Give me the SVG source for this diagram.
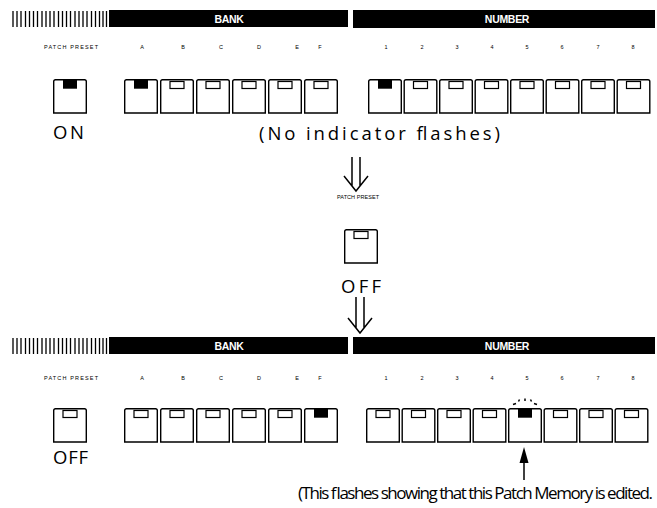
<svg xmlns="http://www.w3.org/2000/svg" xmlns:xlink="http://www.w3.org/1999/xlink" width="657" height="508" viewBox="0 0 657 508">
<style>
.bar{fill:#000}
.bt{font-family:"Liberation Sans",Arial,sans-serif;font-weight:bold;font-size:10.5px;fill:#fff;text-anchor:middle;letter-spacing:-0.3px}
.lb{font-family:"Liberation Sans",Arial,sans-serif;font-size:5.5px;fill:#000;text-anchor:middle}
.tx{font-family:"Open Sans","Liberation Sans",sans-serif;font-weight:400;font-size:18.5px;fill:#000}
.tx2{font-family:"Open Sans","Liberation Sans",sans-serif;font-weight:400;font-size:17px;fill:#000}
.btn{fill:#fff;stroke:#000;stroke-width:1.4}
.win{fill:#fff;stroke:#000;stroke-width:1.2}
.lit{fill:#000}
.arr{fill:none;stroke:#000;stroke-width:1.5;stroke-linejoin:miter}
.hat{stroke:#000;fill:none}
</style>
<defs>
<g id="bOff">
<path class="btn" d="M0.7,34 V2.5 Q0.7,0.7 2.5,0.7 H31.5 Q33.3,0.7 33.3,2.5 V34 Z"/>
<rect class="win" x="10" y="2.5" width="14" height="7"/>
</g>
<g id="bOn">
<path class="btn" d="M0.7,34 V2.5 Q0.7,0.7 2.5,0.7 H31.5 Q33.3,0.7 33.3,2.5 V34 Z"/>
<rect class="lit" x="10" y="0.7" width="14" height="9"/>
</g>
<path id="hatch" class="hat" stroke-width="1.3" d="M13,0V16M17,0V16M21,0V16M25.5,0V16M29.5,0V16M33.5,0V16M37.5,0V16M42,0V16M46,0V16M50,0V16M54,0V16M58.5,0V16M62.5,0V16M66.5,0V16M70.5,0V16M75,0V16M79,0V16M83,0V16M87,0V16M91.5,0V16M95.5,0V16M99.5,0V16M103,0V16M106.5,0V16"/>
</defs>

<!-- TOP PANEL -->
<g id="top-header">
<use xlink:href="#hatch" x="0" y="11"/>
<rect class="bar" x="109" y="10" width="239" height="17"/>
<rect class="bar" x="353" y="10" width="302" height="18"/>
<text class="bt" x="229" y="22.5">BANK</text>
<text class="bt" x="507" y="22.5">NUMBER</text>
</g>
<g id="top-labels">
<text class="lb" x="71" y="49" textLength="54" lengthAdjust="spacing">PATCH PRESET</text>
<text class="lb" x="142" y="49">A</text><text class="lb" x="183" y="49">B</text><text class="lb" x="221" y="49">C</text><text class="lb" x="259" y="49">D</text><text class="lb" x="297" y="49">E</text><text class="lb" x="320" y="49">F</text>
<text class="lb" x="386" y="49">1</text><text class="lb" x="422" y="49">2</text><text class="lb" x="457" y="49">3</text><text class="lb" x="492" y="49">4</text><text class="lb" x="527" y="49">5</text><text class="lb" x="562" y="49">6</text><text class="lb" x="598" y="49">7</text><text class="lb" x="633" y="49">8</text>
</g>
<g id="top-patch-preset"><use xlink:href="#bOn" x="53" y="79"/></g>
<g id="top-bank-A"><use xlink:href="#bOn" x="124" y="79"/></g>
<g id="top-bank-B"><use xlink:href="#bOff" x="160" y="79"/></g>
<g id="top-bank-C"><use xlink:href="#bOff" x="196" y="79"/></g>
<g id="top-bank-D"><use xlink:href="#bOff" x="232" y="79"/></g>
<g id="top-bank-E"><use xlink:href="#bOff" x="268" y="79"/></g>
<g id="top-bank-F"><use xlink:href="#bOff" x="304" y="79"/></g>
<g id="top-num-1"><use xlink:href="#bOn" x="368" y="79"/></g>
<g id="top-num-2"><use xlink:href="#bOff" x="403.5" y="79"/></g>
<g id="top-num-3"><use xlink:href="#bOff" x="439" y="79"/></g>
<g id="top-num-4"><use xlink:href="#bOff" x="474.5" y="79"/></g>
<g id="top-num-5"><use xlink:href="#bOff" x="510" y="79"/></g>
<g id="top-num-6"><use xlink:href="#bOff" x="545.5" y="79"/></g>
<g id="top-num-7"><use xlink:href="#bOff" x="581" y="79"/></g>
<g id="top-num-8"><use xlink:href="#bOff" x="616.5" y="79"/></g>
<text class="tx" x="53" y="139" textLength="31" lengthAdjust="spacing">ON</text>
<text class="tx" x="259" y="140" textLength="241" lengthAdjust="spacing">(No indicator flashes)</text>

<!-- MIDDLE -->
<g id="mid-switch">
<text class="lb" x="358" y="199" textLength="42" lengthAdjust="spacing">PATCH PRESET</text>
<use xlink:href="#bOff" x="344" y="229"/>
<text class="tx" x="341" y="293" textLength="40" lengthAdjust="spacing">OFF</text>
</g>
<g id="connectors">
<path class="arr" d="M352,157V186M360,157V186M344,176L356,191L368,176"/>
<path class="arr" d="M356,297V328M364,297V328M348,318L360,333L372,318"/>
<path class="arr" d="M524,462V480"/>
<polygon points="524,447 519.5,463 528.5,463" fill="#000"/>
</g>

<!-- BOTTOM PANEL -->
<g id="bottom-header">
<use xlink:href="#hatch" x="0" y="338"/>
<rect class="bar" x="109" y="337" width="239" height="17"/>
<rect class="bar" x="353" y="337" width="302" height="17"/>
<text class="bt" x="229" y="349.5">BANK</text>
<text class="bt" x="507" y="349.5">NUMBER</text>
</g>
<g id="bottom-labels">
<text class="lb" x="71" y="380" textLength="54" lengthAdjust="spacing">PATCH PRESET</text>
<text class="lb" x="142" y="380">A</text><text class="lb" x="183" y="380">B</text><text class="lb" x="221" y="380">C</text><text class="lb" x="259" y="380">D</text><text class="lb" x="297" y="380">E</text><text class="lb" x="320" y="380">F</text>
<text class="lb" x="386" y="380">1</text><text class="lb" x="422" y="380">2</text><text class="lb" x="457" y="380">3</text><text class="lb" x="492" y="380">4</text><text class="lb" x="527" y="380">5</text><text class="lb" x="562" y="380">6</text><text class="lb" x="598" y="380">7</text><text class="lb" x="633" y="380">8</text>
</g>
<g id="bot-patch-preset"><use xlink:href="#bOff" x="53" y="408"/></g>
<g id="bot-bank-A"><use xlink:href="#bOff" x="124" y="408"/></g>
<g id="bot-bank-B"><use xlink:href="#bOff" x="160" y="408"/></g>
<g id="bot-bank-C"><use xlink:href="#bOff" x="196" y="408"/></g>
<g id="bot-bank-D"><use xlink:href="#bOff" x="232" y="408"/></g>
<g id="bot-bank-E"><use xlink:href="#bOff" x="268" y="408"/></g>
<g id="bot-bank-F"><use xlink:href="#bOn" x="304" y="408"/></g>
<g id="bot-num-1"><use xlink:href="#bOff" x="366" y="408"/></g>
<g id="bot-num-2"><use xlink:href="#bOff" x="401.5" y="408"/></g>
<g id="bot-num-3"><use xlink:href="#bOff" x="437" y="408"/></g>
<g id="bot-num-4"><use xlink:href="#bOff" x="472.5" y="408"/></g>
<g id="bot-num-5"><use xlink:href="#bOn" x="508" y="408"/>
<path class="arr" stroke-width="1.3" d="M513,404.5L516,403.5M518.5,401.5L519.5,399.5M525,401V398.5M530.5,399.5L531.5,401.5M534,403.5L537,404.5"/>
</g>
<g id="bot-num-6"><use xlink:href="#bOff" x="543.5" y="408"/></g>
<g id="bot-num-7"><use xlink:href="#bOff" x="579" y="408"/></g>
<g id="bot-num-8"><use xlink:href="#bOff" x="614.5" y="408"/></g>
<text class="tx" x="53" y="464" textLength="35" lengthAdjust="spacing">OFF</text>
<text class="tx2" x="298" y="499" textLength="355" lengthAdjust="spacing">(This flashes showing that this Patch Memory is edited.</text>
</svg>
